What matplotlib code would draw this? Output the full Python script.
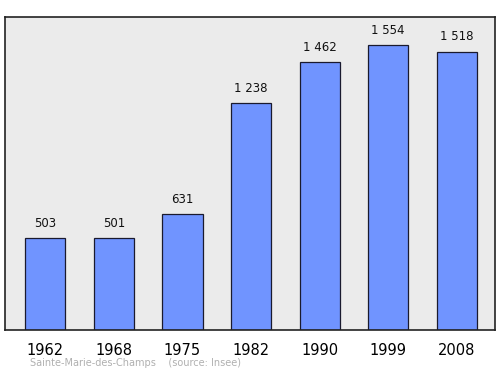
import matplotlib.pyplot as plt

years = ['1962', '1968', '1975', '1982', '1990', '1999', '2008']
population = [503, 501, 631, 1238, 1462, 1554, 1518]
value_labels = ['503', '501', '631', '1 238', '1 462', '1 554', '1 518']

fig = plt.figure(figsize=(5, 3.74), dpi=100)
ax = fig.add_axes([0.01, 0.1176, 0.98, 0.837])
ax.set_facecolor('#ebebeb')

x = range(len(years))
ax.bar(x, population, width=0.584, color='#7094ff', edgecolor='#1a1a2e', linewidth=0.9)

for i, (v, lab) in enumerate(zip(population, value_labels)):
    ax.text(i, v + 45, lab, ha='center', va='bottom', fontsize=8.5, color='#111111')

ax.set_xlim(-0.59, 6.56)
ax.set_ylim(0, 1707)
ax.set_xticks(list(x))
ax.set_xticklabels(years, fontsize=10.5)
ax.tick_params(axis='x', length=0, pad=9)
ax.set_yticks([])
for s in ax.spines.values():
    s.set_color('#222222')
    s.set_linewidth(1.2)

fig.text(0.06, 0.022, 'Sainte-Marie-des-Champs    (source: Insee)', fontsize=7, color='#b0b0b0')

fig.savefig('out.png', dpi=100)
